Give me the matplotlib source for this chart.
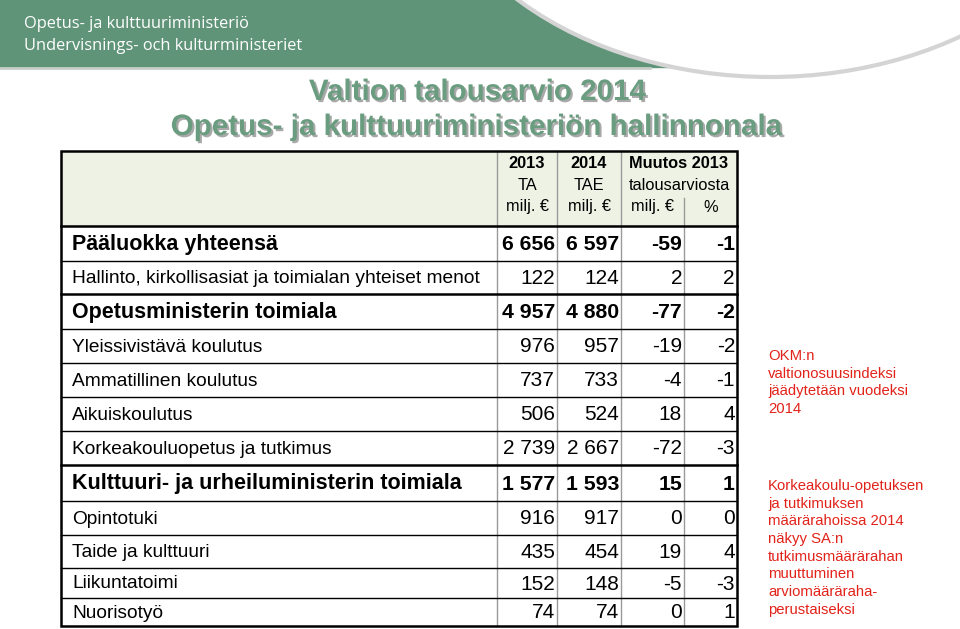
import matplotlib
matplotlib.use('Agg')
import matplotlib.pyplot as plt
import matplotlib.patheffects as pe
from matplotlib.patches import Rectangle, Ellipse

# ---------------- data ----------------
labels = ['Pääluokka yhteensä',
          'Hallinto, kirkollisasiat ja toimialan yhteiset menot',
          'Opetusministerin toimiala',
          'Yleissivistävä koulutus',
          'Ammatillinen koulutus',
          'Aikuiskoulutus',
          'Korkeakouluopetus ja tutkimus',
          'Kulttuuri- ja urheiluministerin toimiala',
          'Opintotuki',
          'Taide ja kulttuuri',
          'Liikuntatoimi',
          'Nuorisotyö']
ta_2013 = [6656, 122, 4957, 976, 737, 506, 2739, 1577, 916, 435, 152, 74]
tae_2014 = [6597, 124, 4880, 957, 733, 524, 2667, 1593, 917, 454, 148, 74]
muutos_meur = [-59, 2, -77, -19, -4, 18, -72, 15, 0, 19, -5, 0]
muutos_pct = [-1, 2, -2, -2, -1, 4, -3, 1, 0, 4, -3, 1]
bold_rows = [True, False, True, False, False, False, False, True, False, False, False, False]

note1 = ['OKM:n', 'valtionosuusindeksi', 'jäädytetään vuodeksi', '2014']
note2 = ['Korkeakoulu-opetuksen', 'ja tutkimuksen', 'määrärahoissa 2014', 'näkyy SA:n',
         'tutkimusmäärärahan', 'muuttuminen', 'arviomääräraha-', 'perustaiseksi']

def fmt(v):
    return '{:,}'.format(v).replace(',', ' ')

arial = 'Liberation Sans'
ministry_font = 'Open Sans'

fig = plt.figure(figsize=(9.6, 6.29), dpi=100)
ax = fig.add_axes([0, 0, 1, 1])
ax.set_xlim(0, 960)
ax.set_ylim(629, 0)
ax.axis('off')

# ---------------- top banner ----------------
green = '#5f9478'
ax.add_patch(Rectangle((0, 0), 672, 67, color=green, zorder=1))
ax.plot([0, 650], [68, 68], color='#c8cfc9', lw=2, zorder=1)
ax.add_patch(Ellipse((770, -175), 700, 504, facecolor='white', edgecolor='#d4d4d4', lw=3, zorder=2))
ax.text(24, 24, 'Opetus- ja kulttuuriministeriö', color='white', fontsize=11.8,
        family=ministry_font, va='center', zorder=3)
ax.text(24, 46, 'Undervisnings- och kulturministeriet', color='white', fontsize=11.8,
        family=ministry_font, va='center', zorder=3)

# ---------------- title ----------------
shadow = [pe.SimplePatchShadow(offset=(1.5, -1.5), shadow_rgbFace='#555555', alpha=0.5), pe.Normal()]
for yy, t in [(92, 'Valtion talousarvio 2014'), (127, 'Opetus- ja kulttuuriministeriön hallinnonala')]:
    ax.text(478, yy, t, color='#6a9c80', fontsize=21.3, weight='bold', family=arial,
            ha='center', va='center', path_effects=shadow, zorder=3)

# ---------------- table ----------------
col_edges = [61, 497, 557, 621, 684, 737]
row_edges = [226, 261, 294, 329, 363, 397, 431, 465, 501, 535, 568, 598, 626]
top = 151

ax.add_patch(Rectangle((col_edges[0], top), col_edges[-1] - col_edges[0], row_edges[0] - top,
                       facecolor='#edf2e4', edgecolor='none', zorder=1))

grey = '#9a9a9a'
for x in col_edges[1:4]:
    ax.plot([x, x], [top, row_edges[-1]], color=grey, lw=1, zorder=2)
ax.plot([col_edges[4], col_edges[4]], [198, row_edges[-1]], color=grey, lw=1, zorder=2)

thick_after = {1, 6}
for i, y in enumerate(row_edges[1:-1]):
    ax.plot([col_edges[0], col_edges[-1]], [y, y], color='black',
            lw=1.8 if i in thick_after else 1.0, zorder=3)
ax.plot([col_edges[0], col_edges[-1]], [row_edges[0], row_edges[0]], color='black', lw=1.8, zorder=3)
ax.add_patch(Rectangle((col_edges[0], top), col_edges[-1] - col_edges[0], row_edges[-1] - top,
                       facecolor='none', edgecolor='black', lw=1.8, zorder=4))

# header text
hfs = 11.8
c1 = (col_edges[1] + col_edges[2]) / 2
c2 = (col_edges[2] + col_edges[3]) / 2
c3 = (col_edges[3] + col_edges[5]) / 2
for cx, year, sub in [(c1, '2013', 'TA'), (c2, '2014', 'TAE')]:
    ax.text(cx, 164, year, ha='center', va='center', fontsize=hfs, weight='bold', family=arial)
    ax.text(cx, 186, sub, ha='center', va='center', fontsize=hfs, family=arial)
    ax.text(cx, 207, 'milj. €', ha='center', va='center', fontsize=hfs, family=arial)
ax.text(c3, 164, 'Muutos 2013', ha='center', va='center', fontsize=hfs, weight='bold', family=arial)
ax.text(c3, 186, 'talousarviosta', ha='center', va='center', fontsize=hfs, family=arial)
ax.text((col_edges[3] + col_edges[4]) / 2, 207, 'milj. €', ha='center', va='center', fontsize=hfs, family=arial)
ax.text((col_edges[4] + col_edges[5]) / 2, 207, '%', ha='center', va='center', fontsize=hfs, family=arial)

# body
for i, lab in enumerate(labels):
    yc = (row_edges[i] + row_edges[i + 1]) / 2 + 1
    b = bold_rows[i]
    w = 'bold' if b else 'normal'
    ax.text(72, yc, lab, ha='left', va='center', fontsize=15.5 if b else 13.8,
            weight=w, family=arial, zorder=5)
    vals = [fmt(ta_2013[i]), fmt(tae_2014[i]), fmt(muutos_meur[i]), fmt(muutos_pct[i])]
    for j, v in enumerate(vals):
        ax.text(col_edges[j + 2] - 2, yc, v, ha='right', va='center', fontsize=15.3 if b else 15,
                weight=w, family=arial, zorder=5)

# ---------------- side notes ----------------
red = '#e2231a'
for k, line in enumerate(note1):
    ax.text(768, 356 + k * 17.7, line, color=red, fontsize=10.7, family=arial, va='center')
for k, line in enumerate(note2):
    ax.text(768, 486 + k * 17.7, line, color=red, fontsize=10.7, family=arial, va='center')

fig.savefig('out.png', dpi=100)
